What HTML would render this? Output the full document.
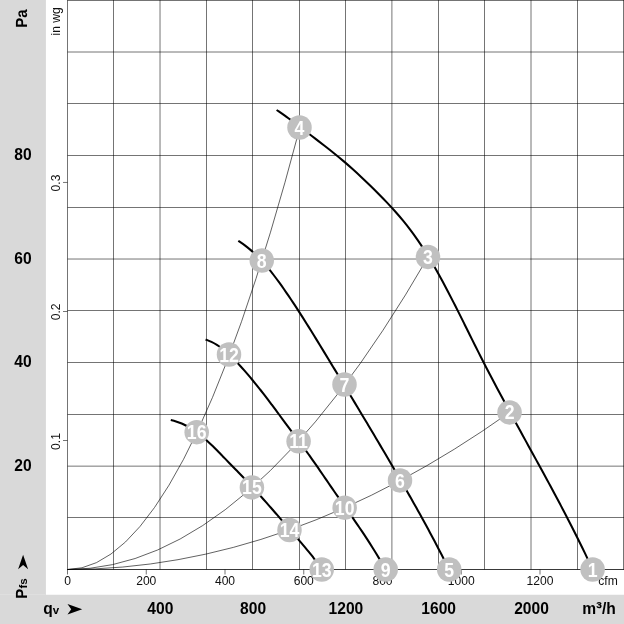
<!DOCTYPE html>
<html><head><meta charset="utf-8"><title>Fan curve</title>
<style>
html,body{margin:0;padding:0;background:#fff;}
body{width:624px;height:624px;overflow:hidden;}
svg{display:block;font-family:"Liberation Sans",sans-serif;}
.b{font-weight:bold;font-size:15.6px;fill:#000;}
.s{font-size:12.1px;fill:#111;}
.n{font-weight:bold;font-size:17.7px;fill:#fff;text-anchor:middle;}
</style></head><body>
<svg width="624" height="624" viewBox="0 0 624 624">
<rect x="0" y="0" width="624" height="624" fill="#fff"/>
<rect x="0" y="0" width="45.9" height="624" fill="#d9d9d9"/>
<rect x="0" y="594.75" width="624" height="29.25" fill="#d9d9d9"/>
<rect x="0" y="594" width="45.5" height="1" fill="#dfdfdf"/>

<path d="M67.50,0V569.50M113.50,0V569.50M160.03,0V569.50M206.50,0V569.50M252.50,0V569.50M299.50,0V569.50M345.50,0V569.50M391.90,0V569.50M438.50,0V569.50M484.50,0V569.50M531.00,0V569.50M577.50,0V569.50M623.50,0V569.50M67.50,517.50H624M67.50,466.15H624M67.50,414.50H624M67.50,362.50H624M67.50,310.50H624M67.50,259.03H624M67.50,207.50H624M67.50,155.50H624M67.50,103.50H624M67.50,52.00H624M67.50,0.50H624" stroke="#000" stroke-width="0.55" fill="none"/>
<path d="M67.17,569.50H624" stroke="#000" stroke-width="0.78" fill="none"/>
<path d="M67.50,569.50v5M146.25,569.50v5M225.00,569.50v5M303.75,569.50v5M382.50,569.50v5M461.25,569.50v5M540.00,569.50v5M67.50,440.50h-4.5M67.50,311.50h-4.5M67.50,182.45h-4.5" stroke="#000" stroke-width="0.55" fill="none"/>
<text class="s" x="67.50" y="585.2" text-anchor="middle">0</text>
<text class="s" x="146.25" y="585.2" text-anchor="middle">200</text>
<text class="s" x="225.00" y="585.2" text-anchor="middle">400</text>
<text class="s" x="303.75" y="585.2" text-anchor="middle">600</text>
<text class="s" x="382.50" y="585.2" text-anchor="middle">800</text>
<text class="s" x="461.25" y="585.2" text-anchor="middle">1000</text>
<text class="s" x="540.00" y="585.2" text-anchor="middle">1200</text>
<text class="s" x="608" y="585.2" text-anchor="middle">cfm</text>
<text class="s" transform="translate(60,441.50) rotate(-90)" text-anchor="middle">0.1</text>
<text class="s" transform="translate(60,311.90) rotate(-90)" text-anchor="middle">0.2</text>
<text class="s" transform="translate(60,183.00) rotate(-90)" text-anchor="middle">0.3</text>
<text class="s" transform="translate(60,21.4) rotate(-90)" text-anchor="middle">in wg</text>
<text class="b" x="23" y="470.50" text-anchor="middle">20</text>
<text class="b" x="23" y="367.00" text-anchor="middle">40</text>
<text class="b" x="23" y="263.50" text-anchor="middle">60</text>
<text class="b" x="23" y="160.00" text-anchor="middle">80</text>
<text class="b" transform="translate(27.05,27.7) rotate(-90) scale(0.93,1)" style="font-size:16.1px;text-rendering:geometricPrecision">Pa</text>
<text class="b" transform="translate(27,598.75) rotate(-90) scale(0.93,1)" style="font-size:16.1px;text-rendering:geometricPrecision">P</text>
<text class="b" transform="translate(27,588.6) rotate(-90)" style="font-size:11.5px">fs</text>
<path d="M18.1,569.2 L23.1,554.7 L28.1,569.2 L23.1,564.9 Z" fill="#000"/>
<text class="b" x="160.30" y="613.6" text-anchor="middle">400</text>
<text class="b" x="253.10" y="613.6" text-anchor="middle">800</text>
<text class="b" x="345.90" y="613.6" text-anchor="middle">1200</text>
<text class="b" x="438.70" y="613.6" text-anchor="middle">1600</text>
<text class="b" x="531.50" y="613.6" text-anchor="middle">2000</text>
<text class="b" x="615.9" y="613.6" text-anchor="end">m<tspan font-size="18">³</tspan>/h</text>
<text class="b" x="43.2" y="613.7">q<tspan font-size="11.5">v</tspan></text>
<path d="M67.5,604.1 L82.2,609.25 L67.5,614.4 L71.2,609.25 Z" fill="#000"/>
<path d="M67.50,569.50 Q183.50,569.50 299.50,128.90" stroke="#000" stroke-width="0.62" fill="none"/>
<path d="M67.50,569.50 Q247.75,569.50 428.00,257.08" stroke="#000" stroke-width="0.62" fill="none"/>
<path d="M67.50,569.50 Q288.50,569.50 509.50,412.43" stroke="#000" stroke-width="0.62" fill="none"/>
<path d="M276.61,109.99 C278.26,111.13 283.25,114.48 286.52,116.81 C289.78,119.14 292.99,121.55 296.19,123.96 C299.40,126.38 302.56,128.84 305.75,131.29 C308.93,133.73 312.12,136.18 315.30,138.63 C318.48,141.08 321.68,143.51 324.84,145.98 C328.01,148.45 331.17,150.92 334.28,153.44 C337.40,155.96 340.48,158.52 343.53,161.12 C346.58,163.71 349.59,166.36 352.57,169.03 C355.55,171.71 358.49,174.42 361.42,177.17 C364.34,179.91 367.23,182.69 370.11,185.49 C372.98,188.29 375.84,191.12 378.66,193.99 C381.49,196.85 384.30,199.73 387.06,202.65 C389.82,205.58 392.56,208.53 395.23,211.54 C397.89,214.54 400.52,217.58 403.07,220.67 C405.62,223.77 408.11,226.91 410.52,230.11 C412.93,233.30 415.27,236.55 417.55,239.84 C419.82,243.13 422.03,246.47 424.19,249.84 C426.36,253.21 428.46,256.63 430.52,260.06 C432.58,263.50 434.58,266.98 436.56,270.47 C438.54,273.96 440.47,277.49 442.38,281.02 C444.29,284.56 446.16,288.12 448.02,291.68 C449.88,295.24 451.71,298.82 453.54,302.40 C455.36,305.98 457.17,309.57 458.97,313.15 C460.77,316.74 462.56,320.33 464.35,323.92 C466.14,327.52 467.92,331.11 469.71,334.70 C471.50,338.29 473.28,341.88 475.07,345.47 C476.87,349.06 478.67,352.64 480.48,356.22 C482.29,359.79 484.11,363.37 485.95,366.93 C487.79,370.50 489.64,374.05 491.50,377.60 C493.36,381.16 495.24,384.70 497.12,388.24 C499.00,391.79 500.90,395.32 502.80,398.85 C504.70,402.39 506.61,405.92 508.52,409.44 C510.44,412.97 512.36,416.49 514.28,420.01 C516.21,423.53 518.14,427.05 520.07,430.57 C522.00,434.09 523.93,437.60 525.87,441.12 C527.80,444.64 529.74,448.15 531.67,451.67 C533.60,455.19 535.53,458.71 537.46,462.23 C539.39,465.75 541.32,469.27 543.24,472.79 C545.16,476.32 547.07,479.84 548.98,483.37 C550.89,486.90 552.79,490.44 554.68,493.97 C556.57,497.51 558.46,501.05 560.33,504.60 C562.20,508.15 564.07,511.70 565.92,515.26 C567.77,518.82 569.61,522.39 571.43,525.96 C573.25,529.54 575.06,533.12 576.85,536.71 C578.65,540.29 580.42,543.89 582.18,547.50 C583.94,551.10 585.68,554.72 587.40,558.34 C589.12,561.97 591.65,567.43 592.50,569.25" stroke="#000" stroke-width="2.05" fill="none" stroke-linecap="butt" stroke-linejoin="round"/>
<path d="M238.30,240.79 C239.45,241.59 242.97,243.92 245.20,245.60 C247.42,247.28 249.56,249.06 251.65,250.89 C253.73,252.72 255.74,254.62 257.70,256.58 C259.66,258.54 261.56,260.56 263.41,262.62 C265.27,264.68 267.06,266.80 268.83,268.95 C270.60,271.10 272.31,273.29 274.01,275.50 C275.70,277.72 277.36,279.96 279.00,282.22 C280.64,284.47 282.26,286.75 283.86,289.03 C285.46,291.32 287.04,293.61 288.61,295.92 C290.18,298.22 291.73,300.53 293.27,302.85 C294.81,305.17 296.34,307.51 297.85,309.84 C299.37,312.18 300.87,314.52 302.36,316.87 C303.86,319.22 305.34,321.58 306.82,323.93 C308.30,326.29 309.77,328.66 311.23,331.03 C312.70,333.39 314.15,335.77 315.61,338.14 C317.07,340.51 318.52,342.89 319.97,345.26 C321.42,347.64 322.86,350.02 324.31,352.39 C325.76,354.77 327.20,357.15 328.65,359.52 C330.10,361.90 331.54,364.28 332.99,366.66 C334.43,369.04 335.87,371.41 337.32,373.79 C338.76,376.17 340.20,378.55 341.64,380.93 C343.08,383.31 344.52,385.69 345.96,388.07 C347.40,390.45 348.84,392.83 350.28,395.22 C351.71,397.60 353.15,399.98 354.58,402.36 C356.02,404.75 357.45,407.13 358.88,409.52 C360.32,411.90 361.75,414.29 363.17,416.67 C364.60,419.06 366.03,421.45 367.46,423.84 C368.88,426.23 370.31,428.61 371.73,431.01 C373.15,433.40 374.57,435.79 375.99,438.18 C377.41,440.57 378.83,442.97 380.25,445.36 C381.66,447.76 383.08,450.15 384.49,452.55 C385.90,454.95 387.31,457.35 388.72,459.75 C390.13,462.15 391.53,464.55 392.94,466.96 C394.34,469.36 395.74,471.76 397.14,474.17 C398.54,476.58 399.94,478.99 401.33,481.40 C402.72,483.81 404.11,486.22 405.50,488.63 C406.88,491.05 408.26,493.46 409.64,495.88 C411.02,498.30 412.39,500.73 413.76,503.15 C415.13,505.58 416.49,508.00 417.85,510.43 C419.20,512.87 420.55,515.30 421.90,517.74 C423.24,520.17 424.58,522.61 425.91,525.06 C427.24,527.50 428.57,529.95 429.89,532.40 C431.20,534.85 432.51,537.31 433.81,539.77 C435.11,542.23 436.41,544.69 437.69,547.16 C438.98,549.63 440.25,552.10 441.52,554.58 C442.78,557.06 444.04,559.54 445.29,562.02 C446.54,564.51 448.38,568.25 449.00,569.50" stroke="#000" stroke-width="2.05" fill="none" stroke-linecap="butt" stroke-linejoin="round"/>
<path d="M205.61,339.48 C206.58,339.88 209.57,340.99 211.45,341.90 C213.33,342.81 215.14,343.83 216.89,344.92 C218.65,346.02 220.34,347.21 222.00,348.45 C223.65,349.70 225.25,351.03 226.81,352.39 C228.38,353.76 229.90,355.19 231.40,356.65 C232.89,358.11 234.35,359.62 235.80,361.13 C237.25,362.64 238.67,364.19 240.08,365.74 C241.49,367.29 242.89,368.85 244.27,370.42 C245.65,372.00 247.02,373.58 248.38,375.18 C249.74,376.77 251.08,378.37 252.41,379.99 C253.75,381.60 255.07,383.22 256.38,384.85 C257.69,386.48 258.99,388.12 260.29,389.76 C261.58,391.40 262.87,393.05 264.15,394.71 C265.43,396.36 266.70,398.02 267.96,399.69 C269.23,401.35 270.49,403.02 271.75,404.69 C273.00,406.36 274.25,408.03 275.50,409.71 C276.75,411.38 278.00,413.06 279.24,414.74 C280.49,416.42 281.73,418.10 282.97,419.77 C284.21,421.45 285.46,423.13 286.70,424.80 C287.94,426.48 289.19,428.15 290.43,429.83 C291.68,431.50 292.93,433.16 294.17,434.83 C295.42,436.50 296.67,438.17 297.92,439.84 C299.16,441.51 300.41,443.17 301.64,444.85 C302.88,446.52 304.12,448.20 305.34,449.88 C306.57,451.56 307.79,453.25 309.01,454.94 C310.22,456.64 311.43,458.34 312.63,460.04 C313.83,461.75 315.03,463.46 316.22,465.17 C317.41,466.88 318.60,468.60 319.78,470.32 C320.97,472.04 322.15,473.76 323.33,475.48 C324.51,477.20 325.69,478.93 326.87,480.65 C328.05,482.37 329.23,484.10 330.41,485.82 C331.59,487.55 332.77,489.27 333.96,490.99 C335.15,492.71 336.33,494.43 337.53,496.15 C338.72,497.86 339.91,499.58 341.11,501.29 C342.31,503.00 343.51,504.71 344.71,506.42 C345.91,508.13 347.11,509.84 348.31,511.55 C349.51,513.26 350.71,514.97 351.90,516.68 C353.10,518.39 354.29,520.11 355.47,521.82 C356.66,523.54 357.84,525.26 359.01,526.99 C360.19,528.72 361.35,530.45 362.51,532.18 C363.67,533.91 364.83,535.65 365.97,537.40 C367.12,539.14 368.25,540.89 369.38,542.65 C370.51,544.40 371.63,546.16 372.74,547.93 C373.84,549.70 374.94,551.47 376.03,553.26 C377.12,555.04 378.19,556.83 379.26,558.62 C380.32,560.42 381.38,562.22 382.42,564.04 C383.46,565.85 384.98,568.59 385.50,569.50" stroke="#000" stroke-width="2.05" fill="none" stroke-linecap="butt" stroke-linejoin="round"/>
<path d="M170.79,420.10 C171.54,420.29 173.82,420.78 175.29,421.21 C176.76,421.64 178.21,422.13 179.63,422.67 C181.05,423.21 182.44,423.81 183.81,424.46 C185.19,425.10 186.53,425.79 187.86,426.52 C189.18,427.26 190.49,428.04 191.77,428.85 C193.05,429.66 194.31,430.51 195.55,431.39 C196.80,432.27 198.02,433.19 199.23,434.12 C200.43,435.06 201.62,436.03 202.79,437.01 C203.96,438.00 205.12,439.01 206.26,440.03 C207.40,441.05 208.52,442.09 209.64,443.14 C210.75,444.18 211.85,445.25 212.95,446.32 C214.04,447.39 215.13,448.47 216.20,449.55 C217.28,450.63 218.35,451.73 219.42,452.82 C220.49,453.91 221.55,455.01 222.61,456.11 C223.68,457.20 224.74,458.30 225.80,459.39 C226.86,460.49 227.93,461.58 228.99,462.67 C230.06,463.76 231.12,464.85 232.18,465.93 C233.25,467.02 234.31,468.11 235.37,469.20 C236.43,470.29 237.49,471.38 238.55,472.47 C239.61,473.56 240.67,474.65 241.72,475.75 C242.77,476.85 243.82,477.95 244.87,479.05 C245.91,480.15 246.95,481.26 247.99,482.37 C249.03,483.48 250.07,484.59 251.10,485.71 C252.14,486.83 253.17,487.94 254.20,489.07 C255.23,490.19 256.25,491.31 257.27,492.44 C258.30,493.57 259.32,494.70 260.34,495.83 C261.35,496.96 262.37,498.10 263.38,499.23 C264.40,500.37 265.41,501.51 266.42,502.65 C267.43,503.79 268.44,504.93 269.44,506.08 C270.45,507.22 271.45,508.37 272.46,509.51 C273.46,510.66 274.46,511.81 275.46,512.96 C276.46,514.11 277.46,515.26 278.46,516.41 C279.46,517.56 280.46,518.72 281.45,519.87 C282.45,521.02 283.44,522.18 284.44,523.33 C285.43,524.49 286.43,525.64 287.42,526.80 C288.41,527.95 289.41,529.11 290.40,530.27 C291.39,531.42 292.38,532.58 293.38,533.73 C294.37,534.89 295.36,536.05 296.35,537.20 C297.35,538.36 298.34,539.52 299.33,540.67 C300.33,541.83 301.32,542.98 302.31,544.14 C303.30,545.30 304.29,546.46 305.27,547.63 C306.25,548.79 307.23,549.96 308.19,551.14 C309.16,552.31 310.12,553.49 311.07,554.68 C312.02,555.87 312.96,557.07 313.88,558.28 C314.80,559.49 315.71,560.71 316.61,561.94 C317.50,563.17 318.38,564.42 319.24,565.68 C320.09,566.93 321.33,568.86 321.75,569.50" stroke="#000" stroke-width="2.05" fill="none" stroke-linecap="butt" stroke-linejoin="round"/>
<circle cx="592.6" cy="569.5" r="12.25" fill="#c0c0c0"/>
<text class="n" transform="translate(592.6,576.55) scale(1,1.16)">1</text>
<circle cx="509.55" cy="412.4" r="12.25" fill="#c0c0c0"/>
<text class="n" transform="translate(509.55,419.45) scale(1,1.16)">2</text>
<circle cx="428" cy="256.9" r="12.25" fill="#c0c0c0"/>
<text class="n" transform="translate(428,263.95) scale(1,1.16)">3</text>
<circle cx="299.5" cy="127.5" r="12.25" fill="#c0c0c0"/>
<text class="n" transform="translate(299.5,134.55) scale(1,1.16)">4</text>
<circle cx="449.2" cy="569.5" r="12.25" fill="#c0c0c0"/>
<text class="n" transform="translate(449.2,576.55) scale(1,1.16)">5</text>
<circle cx="400" cy="480.45" r="12.25" fill="#c0c0c0"/>
<text class="n" transform="translate(400,487.50) scale(1,1.16)">6</text>
<circle cx="344.5" cy="384.5" r="12.25" fill="#c0c0c0"/>
<text class="n" transform="translate(344.5,391.55) scale(1,1.16)">7</text>
<circle cx="261.75" cy="260.5" r="12.25" fill="#c0c0c0"/>
<text class="n" transform="translate(261.75,267.55) scale(1,1.16)">8</text>
<circle cx="385.7" cy="569.5" r="12.25" fill="#c0c0c0"/>
<text class="n" transform="translate(385.7,576.55) scale(1,1.16)">9</text>
<circle cx="344.65" cy="507.65" r="12.25" fill="#c0c0c0"/>
<text class="n" transform="translate(344.65,514.70) scale(1,1.16)">10</text>
<circle cx="298.6" cy="441.3" r="12.25" fill="#c0c0c0"/>
<text class="n" transform="translate(298.6,448.35) scale(1,1.16)">11</text>
<circle cx="229" cy="354.5" r="12.25" fill="#c0c0c0"/>
<text class="n" transform="translate(229,361.55) scale(1,1.16)">12</text>
<circle cx="321.75" cy="569.5" r="12.25" fill="#c0c0c0"/>
<text class="n" transform="translate(321.75,576.55) scale(1,1.16)">13</text>
<circle cx="289.5" cy="530" r="12.25" fill="#c0c0c0"/>
<text class="n" transform="translate(289.5,537.05) scale(1,1.16)">14</text>
<circle cx="251.9" cy="487.4" r="12.25" fill="#c0c0c0"/>
<text class="n" transform="translate(251.9,494.45) scale(1,1.16)">15</text>
<circle cx="196.7" cy="432.2" r="12.25" fill="#c0c0c0"/>
<text class="n" transform="translate(196.7,439.25) scale(1,1.16)">16</text>
</svg></body></html>
